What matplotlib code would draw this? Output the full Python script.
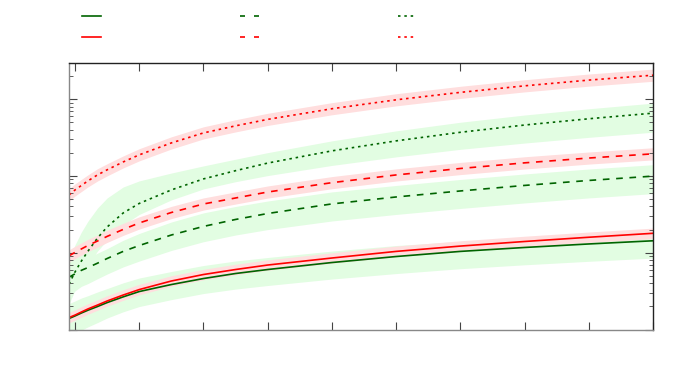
import matplotlib
matplotlib.use("Agg")
import matplotlib.pyplot as plt
from matplotlib.lines import Line2D

plt.rcParams['font.family'] = ['DejaVu Sans']
plt.rcParams['font.size'] = 10

# sample points along x
x = [0.907, 1.0, 1.1, 1.2, 1.35, 1.5, 1.75, 2, 2.5, 3, 3.5, 4, 5, 6, 7, 8, 9, 10]

# green series (line + band)
g_solid = [1.39, 1.50, 1.64, 1.78, 1.99, 2.24, 2.66, 3.12, 3.85, 4.61, 5.36, 6.04, 7.45, 8.92, 10.4, 11.7, 13.0, 14.3]
g_solid_lo = [0.81, 0.89, 0.98, 1.08, 1.23, 1.41, 1.70, 1.99, 2.45, 2.94, 3.36, 3.74, 4.54, 5.35, 6.19, 6.96, 7.73, 8.51]
g_solid_hi = [2.18, 2.35, 2.57, 2.75, 3.08, 3.41, 4.05, 4.68, 5.69, 6.81, 7.80, 8.66, 10.5, 12.4, 14.0, 15.3, 16.5, 17.6]

g_dash = [4.8, 5.3, 5.9, 6.4, 7.3, 8.4, 10.4, 12.4, 17.0, 22.0, 27.1, 32.4, 43.2, 53.2, 63.7, 75.2, 87.3, 99.4]
g_dash_lo = [2.80, 3.18, 3.65, 3.96, 4.58, 5.27, 6.53, 7.78, 10.7, 13.9, 17.0, 20.0, 25.9, 31.5, 37.7, 44.5, 51.7, 58.8]
g_dash_hi = [6.88, 7.37, 7.97, 8.64, 9.86, 11.3, 14.5, 17.8, 25.1, 33.0, 40.0, 47.1, 61.9, 75.1, 89.9, 106, 123, 140]

g_dot = [3.9, 5.6, 7.8, 10.4, 15.5, 21.6, 32.9, 43.8, 65.7, 91.4, 117, 147, 212, 286, 370, 460, 555, 657]
g_dot_lo = [2.14, 3.26, 4.82, 6.83, 10.5, 14.6, 22.9, 31.5, 48.7, 67.7, 84.1, 101, 137, 177, 222, 268, 318, 371]
g_dot_hi = [8.02, 12.6, 18.6, 25.6, 38.1, 51.6, 71.7, 86.1, 109, 135, 165, 201, 286, 386, 500, 621, 749, 887]

# red series (line + band)
r_solid = [1.43, 1.54, 1.69, 1.85, 2.08, 2.35, 2.81, 3.31, 4.28, 5.20, 6.04, 6.91, 8.53, 10.4, 12.2, 14.0, 15.9, 17.9]
r_solid_lo = [1.22, 1.32, 1.44, 1.58, 1.78, 2.01, 2.40, 2.83, 3.66, 4.44, 5.16, 5.91, 7.29, 8.89, 10.4, 12.0, 13.6, 15.3]
r_solid_hi = [1.67, 1.80, 1.98, 2.16, 2.43, 2.75, 3.29, 3.87, 5.01, 6.08, 7.07, 8.08, 9.98, 12.2, 14.3, 16.4, 18.6, 20.9]

r_dash = [9.1, 10.1, 11.2, 12.4, 14.2, 16.3, 20.1, 24.4, 33.4, 43.1, 51.6, 61.7, 81.7, 103, 125, 148, 171, 194]
r_dash_lo = [7.6, 8.4, 9.3, 10.3, 11.8, 13.6, 16.8, 20.3, 27.8, 35.9, 43.0, 51.4, 68.1, 85.8, 104, 123, 142.5, 161.7]
r_dash_hi = [10.9, 12.1, 13.4, 14.9, 17.0, 19.6, 24.1, 29.3, 40.1, 51.7, 61.9, 74.0, 98.0, 123.6, 150, 177.6, 205, 232.8]

r_dot = [56.5, 65.6, 75.1, 86.0, 103, 120, 152, 188, 269, 363, 449, 545, 750, 980, 1225, 1490, 1770, 2050]
r_dot_lo = [47.1, 54.7, 62.6, 71.7, 85.8, 100, 127, 157, 224, 303, 374, 454, 625, 817, 1021, 1242, 1475, 1708]
r_dot_hi = [67.8, 78.7, 90.1, 103, 124, 144, 182, 226, 323, 436, 539, 654, 900, 1176, 1470, 1788, 2124, 2460]

green = '#006400'
red = '#ff0000'
green_band = '#e2fde2'
red_band = '#ffdede'

DASHED = (0, (4, 4))
DOTTED = (0, (1.5, 2.3))
LEG_DASHED = (0, (3.0, 5.4))

fig = plt.figure(figsize=(6.92, 3.88), dpi=100)
ax = fig.add_axes([69 / 692, 1 - 329.5 / 388, 584 / 692, 267 / 388])

# bands first, green under red
for lo, hi in [(g_dot_lo, g_dot_hi), (g_dash_lo, g_dash_hi), (g_solid_lo, g_solid_hi)]:
    ax.fill_between(x, lo, hi, color=green_band, lw=0)
for lo, hi in [(r_dot_lo, r_dot_hi), (r_dash_lo, r_dash_hi), (r_solid_lo, r_solid_hi)]:
    ax.fill_between(x, lo, hi, color=red_band, lw=0)

lw = 1.2
ax.plot(x, g_solid, color=green, lw=lw)
ax.plot(x, g_dash, color=green, lw=lw, linestyle=DASHED)
ax.plot(x, g_dot, color=green, lw=lw, linestyle=DOTTED)
ax.plot(x, r_solid, color=red, lw=lw)
ax.plot(x, r_dash, color=red, lw=lw, linestyle=DASHED)
ax.plot(x, r_dot, color=red, lw=lw, linestyle=DOTTED)

ax.set_yscale('log')
ax.set_xlim(0.907, 10)
ax.set_ylim(1, 3000)
ax.set_xticks(range(1, 11))

ax.tick_params(which='both', direction='in', top=True, right=True,
               labelleft=False, labelbottom=False, color='#444444')
ax.tick_params(which='major', length=6, width=0.8)
ax.tick_params(which='minor', length=3, width=0.6)
for side in ['left', 'bottom']:
    ax.spines[side].set_color('#888888')
for side in ['top', 'right']:
    ax.spines[side].set_color('#222222')
for sp in ax.spines.values():
    sp.set_linewidth(1.0)

# legend: handles only, no label text
handles = [
    Line2D([], [], color=green, lw=lw),
    Line2D([], [], color=red, lw=lw),
    Line2D([], [], color=green, lw=lw, linestyle=LEG_DASHED),
    Line2D([], [], color=red, lw=lw, linestyle=LEG_DASHED),
    Line2D([], [], color=green, lw=lw, linestyle=DOTTED),
    Line2D([], [], color=red, lw=lw, linestyle=DOTTED),
]
fig.legend(handles, [''] * 6, ncol=3, frameon=False, loc='upper left',
           bbox_to_anchor=(82 / 692, 1 - 10 / 388), borderpad=0, borderaxespad=0,
           handlelength=1.37, handletextpad=0.8, columnspacing=9.22, labelspacing=0.52)

fig.savefig('out.png', dpi=100)
